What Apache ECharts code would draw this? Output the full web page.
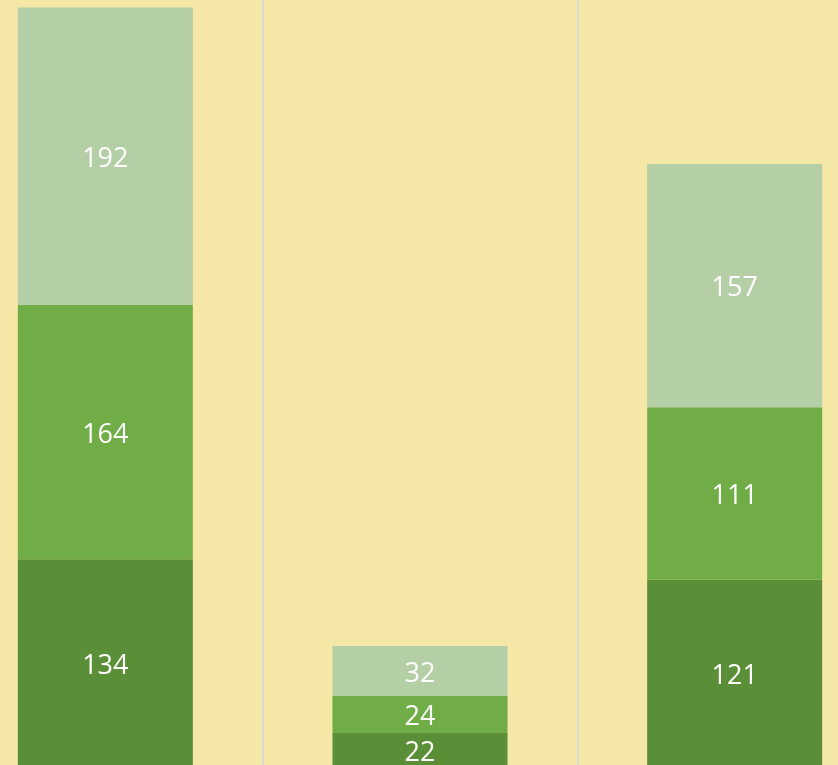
<!DOCTYPE html>
<html>
<head>
<meta charset="utf-8">
<title>Stacked bars</title>
<script src="https://cdn.jsdelivr.net/npm/echarts@6/dist/echarts.min.js"></script>
<style>
  html, body { margin: 0; padding: 0; background: #f5e7a6; overflow: hidden; }
  /* the plot runs past both edges of the picture, so the chart is wider than the view */
  #wrap { position: relative; width: 838px; height: 765px; overflow: hidden; }
  #chart { position: absolute; left: -52px; top: 0; width: 944px; height: 767px; }
</style>
</head>
<body>
<div id="wrap"><div id="chart"></div></div>
<script>
// data
var categories = ["A", "B", "C"];
var bottomValues = [134, 22, 121];
var middleValues = [164, 24, 111];
var topValues = [192, 32, 157];

var seriesColors = ["#5a8f38", "#70ad47", "#b4cea6"];

var chart = echarts.init(document.getElementById("chart"));

function barSeries(name, data, color) {
  return {
    name: name,
    type: "bar",
    stack: "total",
    barWidth: 175,
    data: data,
    itemStyle: { color: color },
    label: {
      show: true,
      position: "inside",
      offset: [0, 3],
      color: "#ffffff",
      fontFamily: "Open Sans",
      fontSize: 27
    }
  };
}

chart.setOption({
  backgroundColor: "#f5e7a6",
  animation: false,
  grid: {
    left: 0,
    right: 0,
    top: 0,
    bottom: 0
  },
  xAxis: {
    type: "category",
    data: categories,
    axisLine: { show: false },
    axisTick: { show: false },
    axisLabel: { show: false },
    splitLine: {
      show: true,
      lineStyle: { color: "#d9d9d9", width: 2 }
    }
  },
  yAxis: {
    type: "value",
    min: 0,
    max: 494.8,
    axisLine: { show: false },
    axisTick: { show: false },
    axisLabel: { show: false },
    splitLine: { show: false }
  },
  series: [
    barSeries("bottom", bottomValues, seriesColors[0]),
    barSeries("middle", middleValues, seriesColors[1]),
    barSeries("top", topValues, seriesColors[2])
  ]
});
</script>
</body>
</html>
